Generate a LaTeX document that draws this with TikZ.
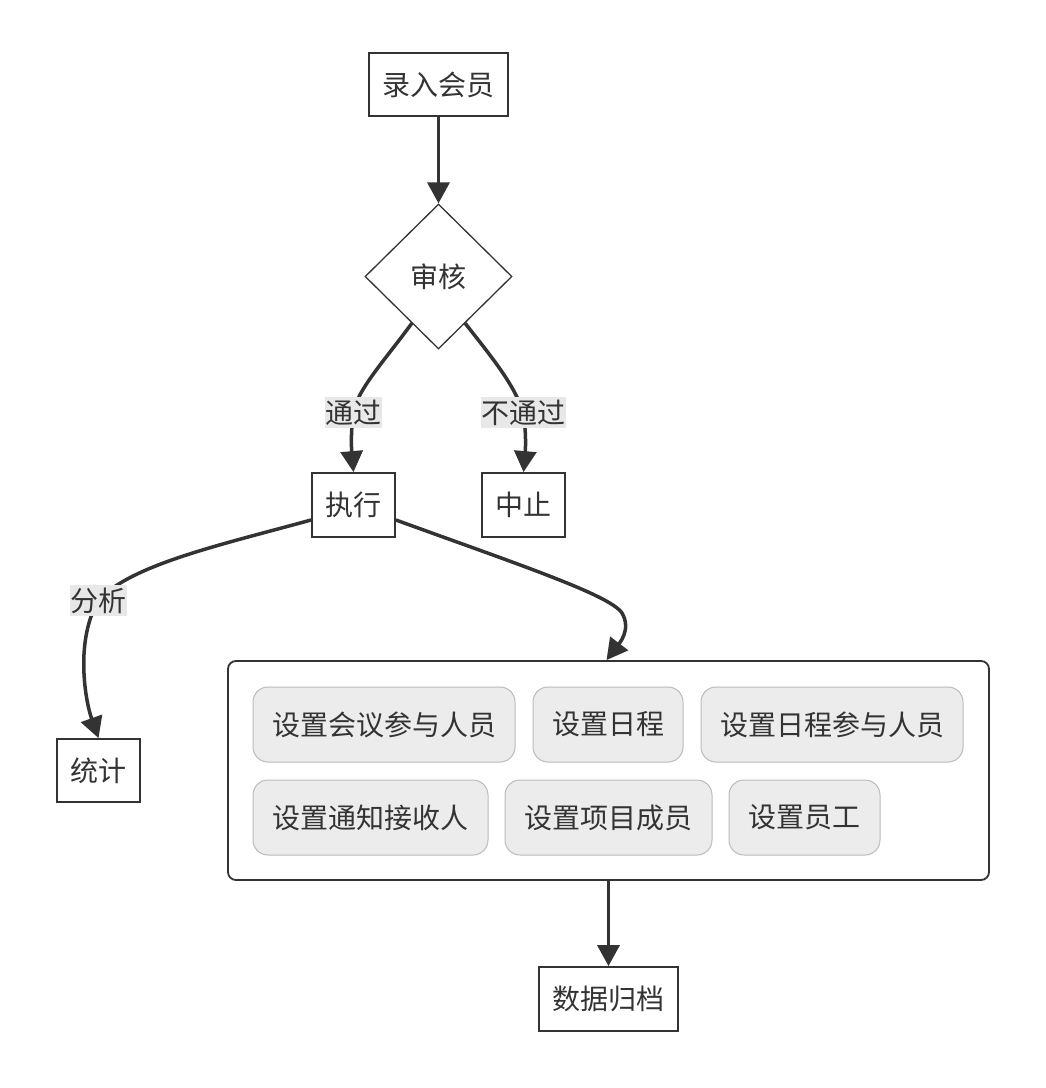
\documentclass[tikz,border=0pt]{standalone}
\usepackage{fontspec}
\newfontfamily\cjk{Noto Sans CJK SC}
\usetikzlibrary{shapes.geometric,arrows.meta,calc}
\definecolor{ink}{HTML}{333333}
\definecolor{lblbg}{HTML}{E8E8E8}
\definecolor{subfill}{HTML}{ECECEC}
\definecolor{subline}{HTML}{BBBBBB}
\begin{document}
\begin{tikzpicture}[x=1pt,y=-1pt,
  txt/.style={font=\cjk\fontsize{28}{32}\selectfont, text=ink},
  box/.style={txt, draw=ink, line width=1.8pt, fill=white, inner sep=0pt, minimum height=63pt},
  dia/.style={txt, diamond, draw=ink, line width=1.3pt, inner sep=0pt, minimum width=147pt, minimum height=145pt},
  lbl/.style={txt, fill=lblbg, inner xsep=0.5pt, inner ysep=0pt, minimum height=31pt},
  grp/.style={draw=ink, line width=1.8pt, rounded corners=8pt, fill=white, minimum width=761pt, minimum height=219pt, inner sep=0pt},
  sub/.style={txt, draw=subline, line width=1pt, fill=subfill, rounded corners=15pt, minimum height=75pt, inner sep=0pt},
  flow/.style={draw=ink, line width=3.5pt, -{Triangle[length=21pt,width=22pt]}},
]
\useasboundingbox[fill=white] (0,0) rectangle (1046,1088);
\node[box, minimum width=139pt] (lr) at (438.5,84.5) {录入会员};
\node[dia] (sh) at (438.5,276.5) {审核};
\node[box, minimum width=83pt, minimum height=64pt] (zx) at (353.5,505) {执行};
\node[box, minimum width=83pt, minimum height=64pt] (zz) at (523.5,505) {中止};
\node[box, minimum width=83pt] (tj) at (98.5,770.5) {统计};
\node[grp] (grp) at (608.5,770.5) {};
\node[sub, minimum width=262pt] (s1) at (384,724.5) {设置会议参与人员};
\node[sub, minimum width=150pt] (s2) at (608,724.5) {设置日程};
\node[sub, minimum width=262pt] (s3) at (832,724.5) {设置日程参与人员};
\node[sub, minimum width=235pt] (s4) at (370.5,817.5) {设置通知接收人};
\node[sub, minimum width=207pt] (s5) at (608.5,817.5) {设置项目成员};
\node[sub, minimum width=151pt] (s6) at (804.5,817.5) {设置员工};
\node[box, minimum width=139pt, minimum height=64pt] (sj) at (608.5,999) {数据归档};

\coordinate (l1) at (353.5,412.5);
\coordinate (l2) at (523,412.5);
\coordinate (l3) at (98.5,600.5);

\draw[flow] (lr.south) -- (sh.north);
\draw[flow] ($(sh.south)!0.36!(sh.west)$) .. controls (385,360) and (357,390) .. (l1) .. controls (350,435) and (352,455) .. (zx.north);
\draw[flow] ($(sh.south)!0.36!(sh.east)$) .. controls (490,355) and (515,385) .. (l2) .. controls (527,435) and (525,455) .. (zz.north);
\draw[flow] ([yshift=-15pt]zx.west) .. controls (220,545) and (130,565) .. (l3) .. controls (75,640) and (85,700) .. (tj.north);
\draw[flow] ([yshift=-15pt]zx.east) .. controls (520,565) and (610,595) .. (622,613) .. controls (632,630) and (618,645) .. ([xshift=-2pt]grp.north);
\draw[flow] (grp.south) -- (sj.north);

\node[lbl] (t1) at (l1) {通过};
\node[lbl] (t2) at (l2) {不通过};
\node[lbl] (t3) at (l3) {分析};
\end{tikzpicture}
\end{document}
